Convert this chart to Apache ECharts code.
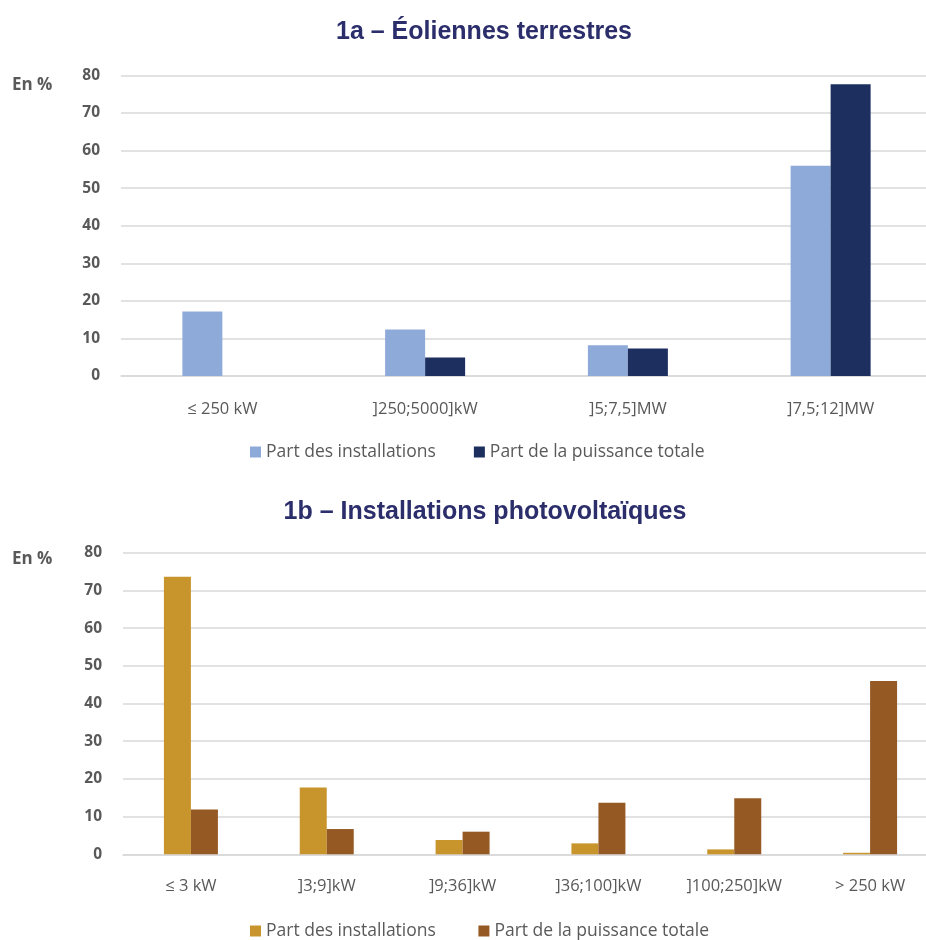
<!DOCTYPE html>
<html>
<head>
<meta charset="utf-8">
<title>Éoliennes terrestres et installations photovoltaïques</title>
<script src="https://cdn.jsdelivr.net/npm/echarts@6/dist/echarts.min.js"></script>
<style>
  html, body { margin: 0; padding: 0; background: #ffffff; overflow: hidden; }
  /* canvas is a bit wider than the window so the gridlines run off the right edge */
  #chart { width: 950px; height: 940px; }
</style>
</head>
<body>
<div id="chart"></div>
<script>
// 1a – onshore wind: size classes and shares (%)
const windCategories = ['≤ 250 kW', ']250;5000]kW', ']5;7,5]MW', ']7,5;12]MW'];
const windInstallShare = [17.2, 12.4, 8.2, 56.0];
const windPowerShare = [0, 4.9, 7.3, 77.7];

// 1b – photovoltaic: size classes and shares (%)
const pvCategories = ['≤ 3 kW', ']3;9]kW', ']9;36]kW', ']36;100]kW', ']100;250]kW', '> 250 kW'];
const pvInstallShare = [73.6, 17.7, 3.8, 2.9, 1.3, 0.4];
const pvPowerShare = [11.9, 6.7, 6.0, 13.7, 14.9, 46.0];

const seriesNames = ['Part des installations', 'Part de la puissance totale'];
const yTicks = { min: 0, max: 80, interval: 10 };

const TEXT_FONT = '"Open Sans", "Noto Sans", sans-serif';
const TITLE_FONT = '"Liberation Sans", Arial, sans-serif';
const GREY = '#595959';
const GRID_LINE = '#d9d9d9';

const colors = {
  windLight: '#8eaad9',
  windDark: '#1c2f5e',
  pvLight: '#c8952c',
  pvDark: '#955a24'
};

function valueAxis(gridIndex) {
  return {
    type: 'value',
    gridIndex: gridIndex,
    min: yTicks.min,
    max: yTicks.max,
    interval: yTicks.interval,
    axisLine: { show: false },
    axisTick: { show: false },
    splitLine: { lineStyle: { color: GRID_LINE, width: 1.5 } },
    axisLabel: {
      margin: 21,
      color: GREY,
      fontFamily: TEXT_FONT,
      fontWeight: 'bold',
      fontSize: 15.5
    }
  };
}

function categoryAxis(gridIndex, data, margin) {
  return {
    type: 'category',
    gridIndex: gridIndex,
    data: data,
    axisLine: { lineStyle: { color: GRID_LINE, width: 1.5 } },
    axisTick: { show: false },
    axisLabel: {
      margin: margin,
      color: GREY,
      fontFamily: TEXT_FONT,
      fontSize: 16.5,
      interval: 0
    }
  };
}

function legendAt(left, top, names, c1, c2) {
  return {
    left: left,
    top: top,
    padding: 0,
    itemWidth: 11,
    itemHeight: 11,
    itemGap: 38,
    icon: 'rect',
    data: [
      { name: names[0], itemStyle: { color: c1 } },
      { name: names[1], itemStyle: { color: c2 } }
    ],
    textStyle: { color: GREY, fontFamily: TEXT_FONT, fontSize: 17.5 },
    selectedMode: false
  };
}

function titleAt(text, centerX, top) {
  return {
    text: text,
    left: centerX, top: top, textAlign: 'center',
    textStyle: { color: '#2b2e6b', fontFamily: TITLE_FONT, fontWeight: 'bold', fontSize: 25 }
  };
}

const chart = echarts.init(document.getElementById('chart'), null, { renderer: 'canvas' });

const option = {
  backgroundColor: '#ffffff',
  animation: false,
  title: [
    titleAt('1a – Éoliennes terrestres', 479, 15),
    titleAt('1b – Installations photovoltaïques', 480, 495)
  ],
  graphic: [
    { type: 'text', left: 12, top: 77, style: { text: 'En %', fill: GREY, font: 'bold 17px ' + TEXT_FONT } },
    { type: 'text', left: 12, top: 551, style: { text: 'En %', fill: GREY, font: 'bold 17px ' + TEXT_FONT } }
  ],
  legend: [
    legendAt(250, 443, seriesNames.map(n => n), colors.windLight, colors.windDark),
    legendAt(250, 922, seriesNames.map(n => n + ' '), colors.pvLight, colors.pvDark)
  ],
  grid: [
    { left: 121, top: 75.5, width: 811, height: 300.5 },
    { left: 123, top: 552.7, width: 815, height: 301.6 }
  ],
  xAxis: [categoryAxis(0, windCategories, 25), categoryAxis(1, pvCategories, 23)],
  yAxis: [valueAxis(0), valueAxis(1)],
  series: [
    {
      name: seriesNames[0], type: 'bar', xAxisIndex: 0, yAxisIndex: 0,
      data: windInstallShare, barWidth: 40, barGap: '0%',
      itemStyle: { color: colors.windLight }
    },
    {
      name: seriesNames[1], type: 'bar', xAxisIndex: 0, yAxisIndex: 0,
      data: windPowerShare, barWidth: 40, barGap: '0%',
      itemStyle: { color: colors.windDark }
    },
    {
      name: seriesNames[0] + ' ', type: 'bar', xAxisIndex: 1, yAxisIndex: 1,
      data: pvInstallShare, barWidth: 27, barGap: '0%',
      itemStyle: { color: colors.pvLight }
    },
    {
      name: seriesNames[1] + ' ', type: 'bar', xAxisIndex: 1, yAxisIndex: 1,
      data: pvPowerShare, barWidth: 27, barGap: '0%',
      itemStyle: { color: colors.pvDark }
    }
  ]
};

chart.setOption(option);
</script>
</body>
</html>
